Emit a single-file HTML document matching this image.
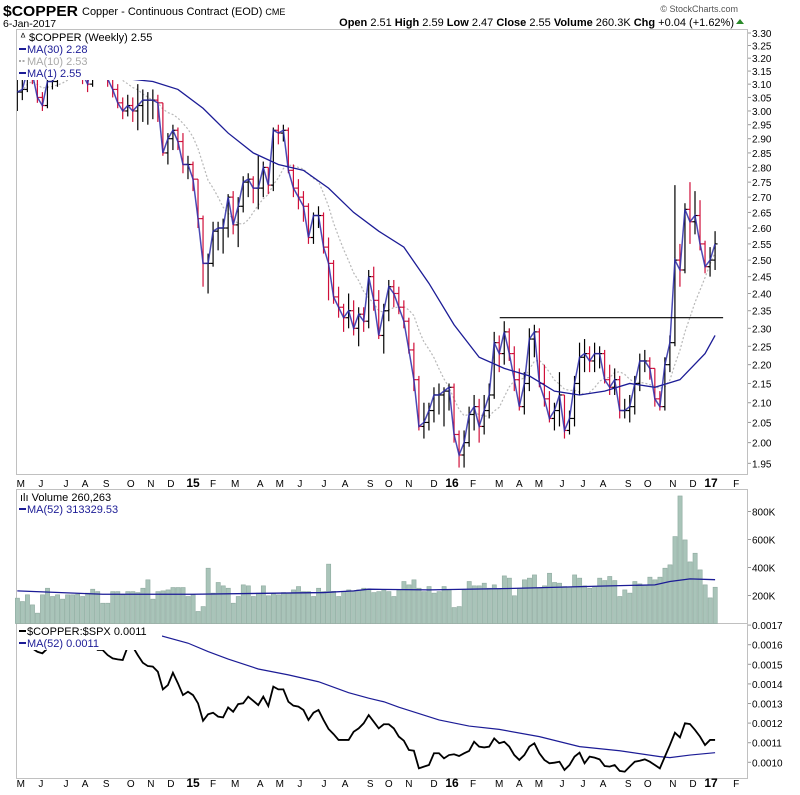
<!DOCTYPE html>
<html><head><meta charset="utf-8"><style>
html,body{margin:0;padding:0;background:#fff;}
svg{display:block;font-family:"Liberation Sans",Arial,sans-serif;}
</style></head><body>
<svg id="chart" width="800" height="795" viewBox="0 0 800 795" xmlns="http://www.w3.org/2000/svg">
<text x="3" y="16" font-size="15" font-weight="bold" fill="#000" textLength="75" lengthAdjust="spacingAndGlyphs">$COPPER</text>
<text x="82" y="15" font-size="11" fill="#000">Copper - Continuous Contract (EOD) <tspan font-size="9">CME</tspan></text>
<text x="3" y="27" font-size="10.5" fill="#000">6-Jan-2017</text>
<text x="738" y="12" font-size="9" fill="#555" text-anchor="end">© StockCharts.com</text>
<text x="734" y="26" font-size="11" fill="#000" text-anchor="end"><tspan font-weight="bold">Open</tspan> 2.51 <tspan font-weight="bold">High</tspan> 2.59 <tspan font-weight="bold">Low</tspan> 2.47 <tspan font-weight="bold">Close</tspan> 2.55 <tspan font-weight="bold">Volume</tspan> 260.3K <tspan font-weight="bold">Chg</tspan> +0.04 (+1.62%)</text>
<polygon points="736,24 744,24 740,19" fill="#2a8a2a"/>
<g id="g"></g>
</svg>
<script>
const closes=[3.07,3.08,3.15,3.14,3.05,3.02,3.11,3.11,3.14,3.17,3.18,3.19,3.15,3.14,3.10,3.20,3.16,3.16,3.12,3.08,3.03,3.00,3.02,3.00,3.02,3.04,3.04,3.04,3.03,2.85,2.90,2.93,2.89,2.81,2.81,2.76,2.63,2.49,2.49,2.59,2.60,2.60,2.70,2.61,2.67,2.75,2.76,2.73,2.73,2.80,2.74,2.93,2.92,2.93,2.79,2.73,2.70,2.67,2.57,2.64,2.64,2.54,2.49,2.39,2.36,2.33,2.35,2.30,2.34,2.32,2.45,2.38,2.28,2.35,2.42,2.40,2.36,2.32,2.24,2.16,2.04,2.05,2.08,2.12,2.12,2.13,2.14,2.02,1.97,2.00,2.07,2.09,2.04,2.08,2.12,2.26,2.23,2.29,2.23,2.16,2.09,2.15,2.27,2.29,2.15,2.11,2.06,2.08,2.12,2.03,2.06,2.15,2.22,2.23,2.21,2.23,2.23,2.16,2.14,2.16,2.08,2.08,2.09,2.15,2.21,2.21,2.19,2.11,2.09,2.20,2.26,2.50,2.47,2.66,2.62,2.64,2.55,2.48,2.50,2.55];
const highs=[3.12,3.12,3.17,3.18,3.15,3.07,3.13,3.15,3.18,3.20,3.22,3.24,3.25,3.20,3.22,3.23,3.22,3.21,3.22,3.14,3.10,3.05,3.06,3.05,3.10,3.08,3.07,3.08,3.06,3.03,2.92,2.95,2.94,2.92,2.84,2.82,2.76,2.64,2.52,2.62,2.62,2.63,2.71,2.72,2.70,2.77,2.78,2.77,2.84,2.82,2.80,2.94,2.95,2.95,2.94,2.81,2.76,2.72,2.68,2.65,2.67,2.65,2.57,2.50,2.42,2.37,2.40,2.38,2.36,2.36,2.47,2.48,2.41,2.37,2.44,2.44,2.42,2.38,2.33,2.26,2.17,2.10,2.10,2.14,2.15,2.14,2.15,2.15,2.03,2.03,2.09,2.12,2.11,2.12,2.15,2.29,2.28,2.32,2.30,2.25,2.19,2.18,2.30,2.31,2.30,2.20,2.13,2.10,2.18,2.12,2.08,2.17,2.26,2.27,2.25,2.26,2.25,2.24,2.20,2.19,2.17,2.11,2.12,2.17,2.23,2.24,2.22,2.19,2.13,2.22,2.28,2.74,2.55,2.68,2.75,2.72,2.69,2.56,2.54,2.59];
const lows=[3.00,3.04,3.07,3.10,3.03,3.00,3.01,3.08,3.09,3.12,3.14,3.15,3.13,3.10,3.07,3.09,3.13,3.12,3.09,3.05,3.01,2.97,2.98,2.96,2.93,2.96,2.95,2.97,2.96,2.84,2.81,2.86,2.86,2.78,2.76,2.72,2.60,2.42,2.40,2.48,2.53,2.52,2.57,2.58,2.54,2.65,2.70,2.68,2.66,2.70,2.71,2.72,2.88,2.89,2.78,2.70,2.66,2.62,2.55,2.55,2.60,2.52,2.38,2.37,2.33,2.29,2.30,2.28,2.25,2.29,2.30,2.35,2.27,2.23,2.32,2.36,2.34,2.30,2.23,2.13,2.03,2.01,2.03,2.05,2.07,2.04,2.08,2.00,1.94,1.94,1.99,2.03,2.00,2.02,2.06,2.11,2.18,2.20,2.21,2.13,2.08,2.07,2.13,2.22,2.14,2.09,2.05,2.03,2.04,2.01,2.02,2.04,2.12,2.18,2.18,2.18,2.19,2.15,2.12,2.12,2.06,2.06,2.05,2.07,2.13,2.18,2.16,2.09,2.08,2.08,2.18,2.25,2.42,2.46,2.55,2.58,2.53,2.46,2.45,2.47];
const firstOpen=3.05;
const ma30Weeks=[12,17,22,27,32,37,42,47,52,57,62,67,72,77,82,87,92,97,102,107,112,117,122,127,132,137,139];
const ma30Vals=[3.15,3.13,3.12,3.11,3.08,3.01,2.92,2.85,2.81,2.79,2.73,2.65,2.59,2.54,2.43,2.31,2.22,2.19,2.17,2.13,2.12,2.13,2.15,2.14,2.16,2.23,2.28];
const volumes=[181,157,205,133,74,205,252,193,205,174,205,205,209,193,217,245,228,145,145,228,228,205,228,228,221,252,312,174,228,233,240,257,257,257,193,205,86,121,395,217,293,269,252,145,193,276,269,193,217,269,198,212,205,221,217,240,264,228,228,193,252,228,424,230,193,228,240,228,240,252,248,221,228,240,228,193,240,300,276,312,252,228,264,217,228,264,240,114,121,240,300,269,269,288,252,276,245,340,324,198,252,312,324,347,252,269,359,293,288,264,259,347,324,269,252,264,324,307,336,307,193,240,217,300,283,274,331,312,331,395,419,621,911,597,440,502,383,276,183,259];
const volMaWeeks=[0,17,35,61,67,70,82,98,118,127,130,134,139];
const volMaVals=[233,209,209,221,233,245,240,250,269,276,300,319,313];
const ratio=[16.24,16.15,15.98,15.81,15.64,15.56,15.81,15.98,16.07,16.15,16.24,16.3,16.24,16.15,16.07,16.07,15.73,15.73,15.47,15.30,15.25,15.22,15.90,15.90,15.47,15.08,14.91,14.88,14.62,13.72,13.94,14.57,14.03,13.43,13.60,13.43,13.01,12.12,12.45,12.53,12.33,12.29,12.80,12.58,12.97,13.01,13.35,13.14,12.92,13.35,12.87,13.86,13.72,13.72,13.09,12.89,12.84,12.67,12.16,12.53,12.67,12.16,11.70,11.44,11.14,11.14,11.14,11.56,11.73,11.99,12.41,12.07,11.73,11.94,11.94,11.73,11.31,11.10,10.63,10.59,9.69,9.78,9.86,10.46,10.46,10.20,10.37,10.41,10.32,10.46,10.58,11.05,10.80,10.76,10.80,11.22,10.97,11.05,10.80,10.37,10.12,10.37,10.80,10.97,10.46,10.12,9.95,9.98,10.03,9.61,9.86,10.29,10.49,9.95,10.29,10.24,10.15,9.81,9.78,9.86,9.56,9.52,9.78,10.03,10.08,10.15,10.03,9.86,9.69,10.29,10.88,11.51,11.27,11.99,11.95,11.65,11.31,10.88,11.14,11.14];
const ratioMaWeeks=[14,19,28,34,38,42,48,54,60,66,70,73,76,84,90,96,104,112,120,128,130,134,139];
const ratioMaVals=[17.4,17.1,16.5,16.08,15.65,15.27,14.76,14.46,14.11,13.55,13.27,13.09,12.81,12.16,11.85,11.68,11.31,10.80,10.59,10.29,10.24,10.37,10.49];
const priceTicks=[3.30,3.25,3.20,3.15,3.10,3.05,3.00,2.95,2.90,2.85,2.80,2.75,2.70,2.65,2.60,2.55,2.50,2.45,2.40,2.35,2.30,2.25,2.20,2.15,2.10,2.05,2.00,1.95];
const volTicks=[800,600,400,200];
const ratioTicks=[17,16,15,14,13,12,11,10];
const monthLabels=["M","J","J","A","S","O","N","D","15","F","M","A","M","J","J","A","S","O","N","D","16","F","M","A","M","J","J","A","S","O","N","D","17","F"];
const monthWeeks=[0.7,4.7,9.7,13.5,17.7,22.6,26.6,30.6,35,39,43.4,48.4,52.3,56.3,61.1,65.3,70.3,74.0,78.0,83.0,86.6,90.8,96,100,103.9,108.5,112.7,116.7,121.7,125.6,130.6,134.6,138.2,143.2];
const resistanceLevel=2.33, resistanceStart=96.1, resistanceEnd=140.6;

const NS="http://www.w3.org/2000/svg";
const G=document.getElementById('g');
function el(tag,attrs,parent){const e=document.createElementNS(NS,tag);for(const k in attrs)e.setAttribute(k,attrs[k]);(parent||G).appendChild(e);return e;}
const X=i=>17.3+5.02*i;
const PY=p=>33+818*Math.log(3.30/p);
const VY=v=>623.5-v*0.14;
const RY=r=>762.3-(r-10)*19.6;
const L=16,R=748;

let p;
p=el('rect',{x:L+0.5,y:29.5,width:R-L-1,height:445,fill:'#fff',stroke:'#c0c0c0'});


p=el('rect',{x:L+0.5,y:489.5,width:R-L-1,height:134,fill:'#fff',stroke:'#c0c0c0'});


p=el('rect',{x:L+0.5,y:623.5,width:R-L-1,height:155,fill:'#fff',stroke:'#c0c0c0'});



const cp=el('clipPath',{id:'cpP'});el('rect',{x:L+1,y:30,width:R-L-2,height:444},cp);
const cr=el('clipPath',{id:'cpR'});el('rect',{x:L+1,y:624,width:R-L-2,height:154},cr);

priceTicks.forEach(t=>{const y=PY(t);
 el('line',{x1:R,x2:R+3,y1:y,y2:y,stroke:'#999'});
 const tx=el('text',{x:R+4,y:y+4,'font-size':10,fill:'#000'});tx.textContent=t.toFixed(2);
 
 });
volTicks.forEach(t=>{const y=VY(t);
 el('line',{x1:R,x2:R+3,y1:y,y2:y,stroke:'#999'});
 const tx=el('text',{x:R+4,y:y+4,'font-size':10,fill:'#000'});tx.textContent=t+'K';
 
 });
ratioTicks.forEach(t=>{const y=RY(t);
 el('line',{x1:R,x2:R+3,y1:y,y2:y,stroke:'#999'});
 const tx=el('text',{x:R+4,y:y+4,'font-size':10,fill:'#000'});tx.textContent='0.00'+t;
 
 });
[487,787].forEach(yy=>{monthLabels.forEach((m,k)=>{const bold=/\d/.test(m);
 const tx=el('text',{x:X(monthWeeks[k]),y:yy,'font-size':bold?12:10,'font-weight':bold?'bold':'normal','text-anchor':'middle',fill:'#000'});
 tx.textContent=m;
 
 });});

const pg=el('g',{'clip-path':'url(#cpP)'});


const ma10=closes.map((c,i)=>{const s=closes.slice(Math.max(0,i-9),i+1);return s.reduce((a,b)=>a+b,0)/s.length;});
el('polyline',{points:ma10.map((v,i)=>X(i)+','+PY(v)).join(' '),fill:'none',stroke:'#b8b8b8','stroke-width':1.2,'stroke-dasharray':'2,2'},pg);
closes.forEach((c,i)=>{const o=i?closes[i-1]:firstOpen;const col=c<o?'#d0103a':'#000';const x=X(i);
 const b=el('g',{stroke:col,'stroke-width':1.2},pg);
 
 
 el('line',{x1:x,x2:x,y1:PY(highs[i]),y2:PY(lows[i])},b);
 el('line',{x1:x-2.5,x2:x,y1:PY(o),y2:PY(o)},b);
 el('line',{x1:x,x2:x+2.5,y1:PY(c),y2:PY(c)},b);});
el('polyline',{points:ma30Weeks.map((w,k)=>X(w)+','+PY(ma30Vals[k])).join(' '),fill:'none',stroke:'#1c1c96','stroke-width':1.3},pg);
el('polyline',{points:closes.map((v,i)=>X(i)+','+PY(v)).join(' '),fill:'none',stroke:'#2a2aa8','stroke-width':1.5,'stroke-opacity':0.85},pg);
const rl=el('line',{x1:X(resistanceStart),x2:X(resistanceEnd),y1:PY(resistanceLevel),y2:PY(resistanceLevel),stroke:'#000','stroke-width':1.2},pg);



const vg=el('g',{});


volumes.forEach((v,i)=>{const r=el('rect',{x:X(i)-2,y:VY(v),width:4.2,height:623.5-VY(v),fill:'#a9c4b9',stroke:'#8eaa9f','stroke-width':0.6},vg);
 
 });
el('polyline',{points:volMaWeeks.map((w,k)=>X(w)+','+VY(volMaVals[k])).join(' '),fill:'none',stroke:'#1c1c96','stroke-width':1.3},vg);

const rg=el('g',{'clip-path':'url(#cpR)'});


el('polyline',{points:ratioMaWeeks.map((w,k)=>X(w)+','+RY(ratioMaVals[k])).join(' '),fill:'none',stroke:'#1c1c96','stroke-width':1.2},rg);
el('polyline',{points:ratio.map((v,i)=>X(i)+','+RY(v)).join(' '),fill:'none',stroke:'#000','stroke-width':1.8},rg);

function legend(x,y,w,lines,name){const g=el('g',{});
 
 
 el('rect',{x:x,y:y,width:w,height:lines.length*12+2,fill:'#fff'},g);
 lines.forEach((ln,k)=>{const yy=y+11+k*12;
  if(ln.dash)el('line',{x1:x+2,x2:x+9,y1:yy-4,y2:yy-4,stroke:ln.c,'stroke-width':2,'stroke-dasharray':ln.dash==='dot'?'2,1.5':'none'},g);
  const t=el('text',{x:x+(ln.dash?10:3),y:yy,'font-size':11,fill:ln.c},g);t.textContent=ln.t;});}
legend(17,30,152,[{t:'ᐞ $COPPER (Weekly) 2.55',c:'#000'},{t:'MA(30) 2.28',c:'#1c1c96',dash:'s'},{t:'MA(10) 2.53',c:'#aaa',dash:'dot'},{t:'MA(1) 2.55',c:'#1c1c96',dash:'s'}],'price-legend');
legend(17,490,100,[{t:'ılı Volume 260,263',c:'#000'},{t:'MA(52) 313329.53',c:'#1c1c96',dash:'s'}],'volume-legend');
legend(17,624,145,[{t:'$COPPER:$SPX 0.0011',c:'#000',dash:'s'},{t:'MA(52) 0.0011',c:'#1c1c96',dash:'s'}],'ratio-legend');
</script>
</body></html>
